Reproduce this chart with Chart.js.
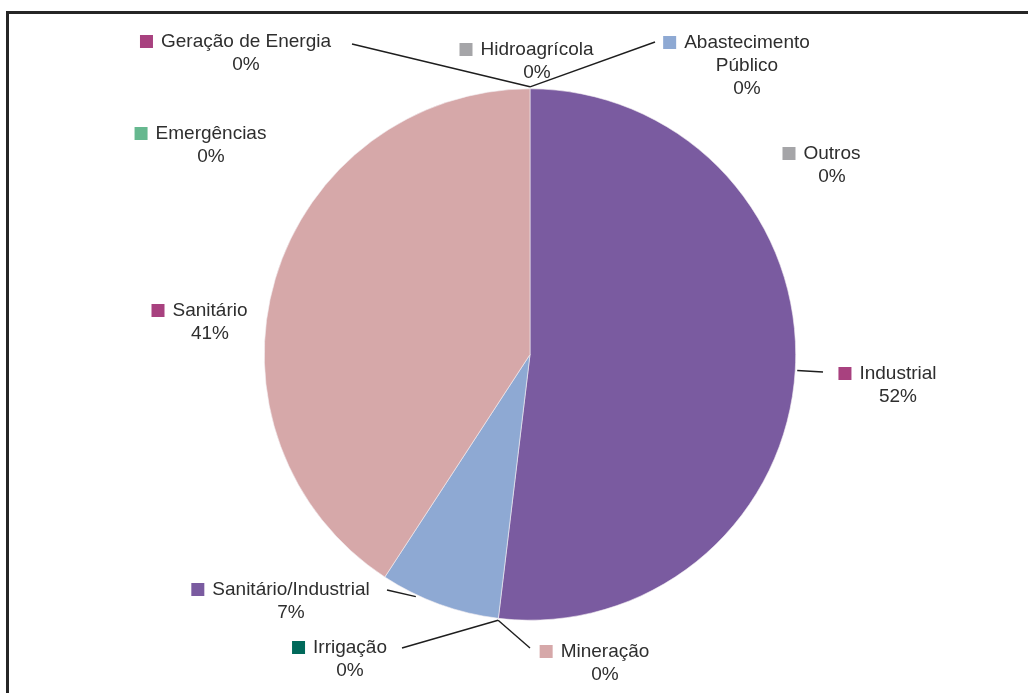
<!DOCTYPE html>
<html>
<head>
<meta charset="utf-8">
<script src="https://cdn.jsdelivr.net/npm/chart.js@4"></script>
<style>
  html, body { margin: 0; padding: 0; background: #fff; }
  #wrap { position: relative; width: 1028px; height: 693px; overflow: hidden; background: #fff; }
  #frame { position: absolute; left: 6px; top: 11px; right: -10px; bottom: -10px; border-top: 3px solid #262626; border-left: 3px solid #262626; }
  canvas { position: absolute; left: 0; top: 0; }
</style>
</head>
<body>
<div id="wrap"><div id="frame"></div><canvas id="c" width="1028" height="693"></canvas></div>
<script>
/* usos da água — pizza com rótulos à moda do Excel (chave + nome + %) */
const categorias = ["Abastecimento Público", "Outros", "Industrial", "Mineração", "Irrigação",
  "Sanitário/Industrial", "Sanitário", "Emergências", "Geração de Energia", "Hidroagrícola"];
const valores = [0, 0, 51.9, 0, 0, 7.3, 40.8, 0, 0, 0];
const nomesRotulo = [["Abastecimento", "Público"], ["Outros"], ["Industrial"], ["Mineração"], ["Irrigação"],
  ["Sanitário/Industrial"], ["Sanitário"], ["Emergências"], ["Geração de Energia"], ["Hidroagrícola"]];

const corFatia = ["#8ea9d3", "#a5a5a8", "#7a5ba0", "#d6a8a9", "#00695a", "#8ea9d3", "#d6a8a9", "#66b88f", "#a8417f", "#a5a5a8"];
const corChave = ["#8ea9d3", "#a5a5a8", "#a8417f", "#d6a8a9", "#00695a", "#7a5ba0", "#a8417f", "#66b88f", "#a8417f", "#a5a5a8"];

// posição do rótulo (centro do texto, 1ª linha) relativa ao centro da pizza; linha guia: ponta do lado do rótulo + fração do arco
const posRotulo = [[217, -311.5], [302, -200.5], [368, 19.5], [75, 297.5], [-180, 293.5],
  [-239, 235.5], [-320, -43.5], [-319, -220.5], [-284, -312.5], [7, -304.5]];
const guia = [[-92, -1, 0], null, [-75, -2, 0.5], [-75, -4, 0], [52, 0, 0],
  [96, 0, 0.7], null, null, [106, 2, 0], null];

const FONTE = '19px "Liberation Sans", Arial, Helvetica, sans-serif';
const LH = 23;

const rotulos = {
  id: "rotulos",
  afterDraw(chart) {
    const ctx = chart.ctx, meta = chart.getDatasetMeta(0);
    const total = valores.reduce((a, b) => a + b, 0);
    ctx.save();
    ctx.font = FONTE; ctx.textBaseline = "middle"; ctx.textAlign = "center";
    meta.data.forEach((arc, i) => {
      const p = arc.getProps(["x", "y", "startAngle", "endAngle", "outerRadius"], true);
      const lx = p.x + posRotulo[i][0], ly = p.y + posRotulo[i][1];
      const g = guia[i];
      if (g) {
        const a = p.startAngle + g[2] * (p.endAngle - p.startAngle), r = p.outerRadius + 2;
        ctx.strokeStyle = "#1e1e1e"; ctx.lineWidth = 1.4;
        ctx.beginPath(); ctx.moveTo(lx + g[0], ly + g[1]);
        ctx.lineTo(p.x + Math.cos(a) * r, p.y + Math.sin(a) * r); ctx.stroke();
      }
      const linhas = nomesRotulo[i].concat([Math.round(valores[i] / total * 100) + "%"]);
      const w0 = ctx.measureText(linhas[0]).width;
      ctx.fillStyle = corChave[i];
      ctx.fillRect(lx - w0 / 2 - 21, ly - 7, 13, 13);
      ctx.fillStyle = "#2e2e2e";
      linhas.forEach((t, k) => ctx.fillText(t, lx, ly + k * LH));
    });
    ctx.restore();
  }
};

new Chart(document.getElementById("c"), {
  type: "pie",
  data: { labels: categorias, datasets: [{ data: valores, backgroundColor: corFatia, borderColor: "#f3eef2", borderWidth: 0.6 }] },
  options: {
    responsive: false, animation: false,
    layout: { padding: { left: 264, right: 232, top: 88.5, bottom: 72.5 } },
    plugins: { legend: { display: false }, tooltip: { enabled: false } }
  },
  plugins: [rotulos]
});
</script>
</body>
</html>
